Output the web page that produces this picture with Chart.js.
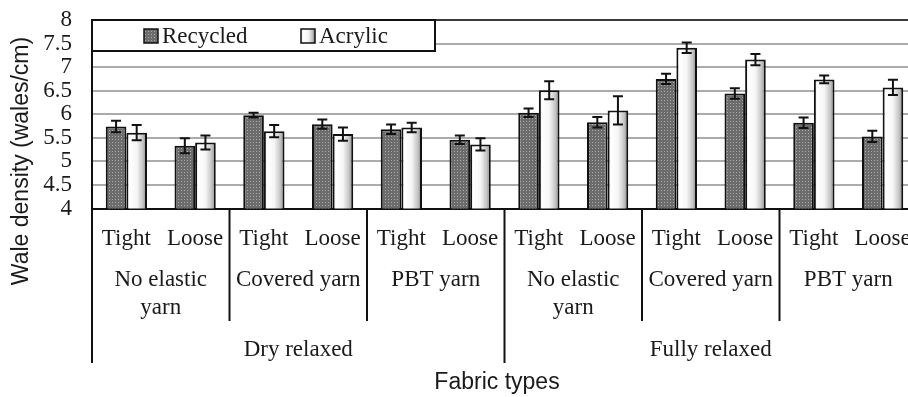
<!DOCTYPE html>
<html>
<head>
<meta charset="utf-8">
<script src="https://cdn.jsdelivr.net/npm/chart.js@4.4.1/dist/chart.umd.min.js"></script>
<style>
html,body{margin:0;padding:0;background:#fff;overflow:hidden;}
#wrap{width:930px;height:397px;}
</style>
</head>
<body>
<div id="wrap"><canvas id="waleChart" width="930" height="397"></canvas></div>
<script>
// data
const categories = ['Tight','Loose','Tight','Loose','Tight','Loose','Tight','Loose','Tight','Loose','Tight','Loose'];
const yarnGroups = [['No elastic','yarn'],['Covered yarn'],['PBT yarn'],['No elastic','yarn'],['Covered yarn'],['PBT yarn']];
const treatments = ['Dry relaxed','Fully relaxed'];
const seriesNames = ['Recycled','Acrylic'];
const recycled    = [5.74,5.33,5.98,5.79,5.68,5.46,6.03,5.83,6.75,6.44,5.82,5.53];
const recycledErr = [0.12,0.16,0.05,0.10,0.10,0.09,0.09,0.11,0.11,0.11,0.11,0.12];
const acrylic     = [5.61,5.40,5.64,5.58,5.72,5.36,6.51,6.08,7.41,7.16,6.74,6.57];
const acrylicErr  = [0.16,0.15,0.13,0.14,0.10,0.13,0.19,0.30,0.11,0.12,0.08,0.16];
const yTicks = [4,4.5,5,5.5,6,6.5,7,7.5,8];

const serif = '"Liberation Serif", "Times New Roman", serif';
const sans = '"Liberation Sans", Arial, sans-serif';
const ink = '#1a1a1a';

const canvas = document.getElementById('waleChart');
const ctx = canvas.getContext('2d');

function dotPattern(){
const c = document.createElement('canvas');
c.width = 3; c.height = 3;
const g = c.getContext('2d');
g.fillStyle = '#6c6c6c';
g.fillRect(0,0,3,3);
g.fillStyle = '#a9a9a9';
g.fillRect(1,1,1,1);
return ctx.createPattern(c,'repeat');
}
const recycledFill = dotPattern();

function acrylicGradient(x0,x1){
const g = ctx.createLinearGradient(x0,0,x1,0);
g.addColorStop(0,'#d6d6d6');
g.addColorStop(0.15,'#ffffff');
g.addColorStop(0.5,'#f6f6f6');
g.addColorStop(0.8,'#c4c4c4');
g.addColorStop(1,'#7e7e7e');
return g;
}

const extras = {
id:'extras',
afterDatasetsDraw(chart){
const y = chart.scales.y;
const c = chart.ctx;
c.save();
c.strokeStyle = '#111';
c.lineWidth = 2;
[[recycled,recycledErr],[acrylic,acrylicErr]].forEach((pair,di)=>{
chart.getDatasetMeta(di).data.forEach((bar,i)=>{
const top = y.getPixelForValue(pair[0][i]+pair[1][i]);
const bot = y.getPixelForValue(pair[0][i]-pair[1][i]);
c.beginPath();
c.moveTo(bar.x,top); c.lineTo(bar.x,bot);
c.moveTo(bar.x-5,top); c.lineTo(bar.x+5,top);
c.moveTo(bar.x-5,bot); c.lineTo(bar.x+5,bot);
c.stroke();
});
});
c.restore();
},
afterDraw(chart){
const x = chart.scales.x;
const area = chart.chartArea;
const c = chart.ctx;
const step = x.width/categories.length;
c.save();
// group dividers
c.strokeStyle = '#111';
c.lineWidth = 2;
for(let k=0;k<=6;k++){
const px = x.left + k*2*step;
const long = (k%3===0);
c.beginPath();
c.moveTo(px,area.bottom);
c.lineTo(px,long ? 363 : 321);
c.stroke();
}
c.fillStyle = ink;
c.textAlign = 'center';
c.textBaseline = 'middle';
c.font = '23px ' + serif;
yarnGroups.forEach((lines,k)=>{
const cx = x.left + (k*2+1)*step;
lines.forEach((t,j)=>c.fillText(t,cx,280+j*28));
});
treatments.forEach((t,k)=>{
const cx = x.left + (k*6+3)*step;
c.fillText(t,cx,350);
});
// axis titles
c.font = '23px ' + sans;
c.fillText('Fabric types',497,383);
c.save();
c.translate(22,161);
c.rotate(-Math.PI/2);
c.fillText('Wale density (wales/cm)',0,0);
c.restore();
// legend box
c.fillStyle = '#fff';
c.fillRect(area.left,area.top,343,31);
c.strokeStyle = '#111';
c.lineWidth = 2;
c.strokeRect(area.left,area.top,343,31);
const items = [[144,recycledFill],[301,null]];
items.forEach((it,k)=>{
const ix = it[0], iy = area.top+9;
c.fillStyle = it[1] || acrylicGradient(ix,ix+14);
c.fillRect(ix,iy,14,14);
c.lineWidth = 1.5;
c.strokeRect(ix,iy,14,14);
c.fillStyle = ink;
c.textAlign = 'left';
c.font = '23px ' + serif;
c.fillText(seriesNames[k],ix+18,area.top+17);
});
c.restore();
}
};

const waleChart = new Chart(ctx,{
type:'bar',
data:{
labels:categories,
datasets:[{
label:seriesNames[0],
data:recycled,
backgroundColor:recycledFill,
borderColor:'#111',
borderWidth:2,
barPercentage:1,
categoryPercentage:0.6
},{
label:seriesNames[1],
data:acrylic,
backgroundColor:context=>{
const xs = context.chart.scales.x;
if(!xs || context.dataIndex===undefined) return '#eeeeee';
const cx = xs.getPixelForValue(context.dataIndex);
const w = xs.width/categories.length*0.3;
if(!isFinite(cx) || !isFinite(w) || w<=0) return '#eeeeee';
return acrylicGradient(cx,cx+w);
},
borderColor:'#111',
borderWidth:2,
barPercentage:1,
categoryPercentage:0.6
}]
},
options:{
responsive:false,
animation:false,
layout:{padding:{left:0,top:20,right:13,bottom:0}},
plugins:{
legend:{display:false},
tooltip:{enabled:false}
},
scales:{
x:{
grid:{display:false},
border:{display:true,color:'#111',width:2},
ticks:{
color:ink,
font:{family:serif,size:23},
maxRotation:0,
autoSkip:false,
padding:9
},
afterFit:scale=>{scale.height = 188.5;}
},
y:{
min:4,
max:8,
afterBuildTicks:scale=>{scale.ticks = yTicks.map(v=>({value:v}));},
ticks:{
autoSkip:false,
color:ink,
font:{family:serif,size:23},
padding:20,
callback:v=>String(v)
},
grid:{
drawTicks:false,
color:c=>c.tick && c.tick.value===8 ? '#3a3a3a' : '#ababab',
lineWidth:2
},
border:{display:true,color:'#111',width:2},
afterFit:scale=>{
scale.width = 92;
scale.paddingTop = 0;
scale.paddingBottom = 0;
}
}
}
},
plugins:[extras]
});
waleChart.update();
</script>
</body>
</html>
